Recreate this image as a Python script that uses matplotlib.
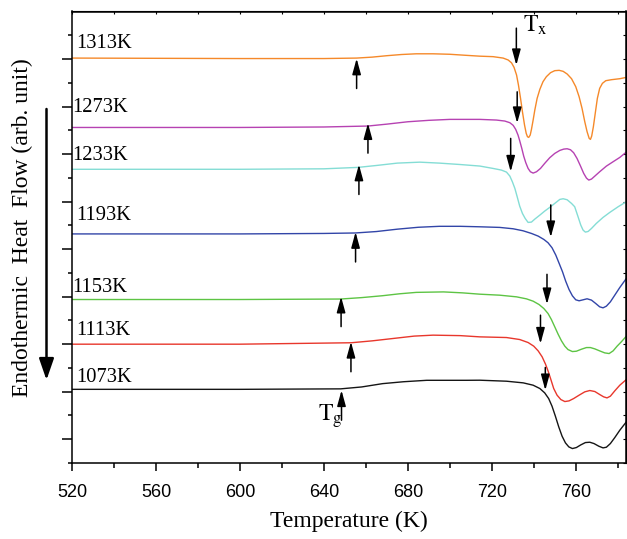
import numpy as np
import matplotlib
matplotlib.use("Agg")
import matplotlib.pyplot as plt

plt.rcParams['font.family'] = ['Liberation Serif', 'DejaVu Serif']
plt.rcParams['mathtext.fontset'] = 'stix'

# DSC curves (temperature in K, heat flow in arb. units incl. offset)
t_1313 = [520, 600, 640, 655.6, 663, 670, 677, 684, 692, 700, 707, 714.3, 720.6, 725.4, 727.8, 729.4,
          730.6, 731.8, 732.7, 733.7, 734.6, 735.6, 736.4, 737.0, 737.6, 738.3, 738.9, 739.7, 740.5,
          741.6, 742.9, 744.4, 746.0, 748.0, 750.0, 752.1, 754.0, 755.9, 758.0, 760.0, 761.6, 763.0,
          764.3, 765.4, 766.4, 767.0, 767.6, 768.4, 769.4, 770.3, 771.4, 772.7, 774.3, 777.0, 781.0, 784.1]
hf_1313 = [8.02, 8.01, 8.01, 8.02, 8.04, 8.07, 8.095, 8.11, 8.11, 8.10, 8.08, 8.06, 8.05, 8.02, 7.98, 7.92,
           7.825, 7.664, 7.453, 7.172, 6.892, 6.611, 6.436, 6.365, 6.351, 6.40, 6.52, 6.716, 6.927,
           7.172, 7.362, 7.523, 7.628, 7.713, 7.755, 7.762, 7.741, 7.685, 7.586, 7.418, 7.207, 6.962,
           6.681, 6.471, 6.330, 6.309, 6.379, 6.576, 6.892, 7.172, 7.383, 7.488, 7.544, 7.565, 7.586, 7.614]

t_1273 = [520, 600, 640, 661, 670, 680, 690, 700, 714.3, 722.2, 726.2, 728.6, 730.2, 731.4, 732.5, 733.3,
          734.3, 735.2, 736.2, 737.3, 738.4, 739.7, 741.3, 743.2, 745.2, 747.6, 750.0, 752.4, 754.3,
          755.9, 757.5, 759.0, 760.6, 762.2, 763.8, 765.1, 766.2, 767.5, 769.1, 771.4, 774.6, 777.8,
          781.0, 784.1]
hf_1273 = [6.56, 6.56, 6.57, 6.59, 6.63, 6.68, 6.71, 6.73, 6.73, 6.716, 6.695, 6.660, 6.604, 6.519, 6.400,
           6.281, 6.119, 5.958, 5.818, 5.698, 5.628, 5.600, 5.628, 5.698, 5.804, 5.923, 6.014, 6.077,
           6.105, 6.112, 6.091, 6.028, 5.909, 5.755, 5.593, 5.495, 5.453, 5.474, 5.537, 5.628, 5.747,
           5.839, 5.930, 6.042]

t_1233 = [520, 600, 640, 656.3, 665, 675, 685.7, 695, 705, 714.3, 720.6, 724.6, 727.0, 728.6, 729.8,
          731.0, 732.1, 733.3, 734.6, 735.9, 737.3, 738.9, 740.5, 742.9, 745.2, 747.6, 750.0, 752.4,
          754.0, 755.9, 758.0, 759.5, 761.1, 762.4, 763.5, 764.6, 765.9, 767.5, 769.8, 773.0, 776.2,
          780.2, 784.1]
hf_1233 = [5.68, 5.68, 5.69, 5.72, 5.76, 5.81, 5.83, 5.81, 5.78, 5.748, 5.698, 5.663, 5.621, 5.537, 5.418,
           5.277, 5.102, 4.905, 4.751, 4.646, 4.562, 4.569, 4.632, 4.716, 4.800, 4.878, 4.962, 5.046,
           5.060, 5.039, 4.961, 4.892, 4.681, 4.506, 4.400, 4.358, 4.372, 4.435, 4.541, 4.667, 4.772,
           4.892, 4.997]

t_1193 = [520, 600, 640, 655, 665, 675, 685, 695, 705, 714.3, 723.8, 730.2, 734.9, 738.9, 742.1, 744.8,
          746.8, 748.7, 750.5, 752.1, 753.7, 755.2, 756.8, 758.4, 760.0, 761.6, 763.5, 765.4, 767.5,
          769.5, 771.4, 773.0, 774.6, 776.5, 778.6, 781.0, 784.1]
hf_1193 = [4.32, 4.32, 4.33, 4.34, 4.37, 4.42, 4.46, 4.48, 4.48, 4.47, 4.457, 4.428, 4.386, 4.330, 4.274,
           4.204, 4.134, 4.029, 3.874, 3.699, 3.523, 3.327, 3.151, 3.018, 2.934, 2.913, 2.934, 2.955,
           2.927, 2.857, 2.786, 2.765, 2.800, 2.891, 3.032, 3.193, 3.383]

t_1153 = [520, 600, 648, 658, 668, 676, 684, 697, 706, 714.3, 723.8, 731.8, 736.5, 739.7, 742.5, 744.8,
          746.8, 748.4, 750.0, 751.6, 753.2, 754.8, 756.3, 758.4, 760.3, 762.7, 765.1, 767.0, 769.1,
          771.4, 773.8, 775.9, 777.8, 779.7, 781.7, 784.1]
hf_1153 = [2.94, 2.94, 2.95, 2.98, 3.02, 3.06, 3.09, 3.10, 3.08, 3.052, 3.031, 2.996, 2.954, 2.905, 2.835,
           2.750, 2.645, 2.519, 2.365, 2.210, 2.070, 1.958, 1.887, 1.845, 1.852, 1.894, 1.929, 1.929,
           1.901, 1.859, 1.817, 1.803, 1.859, 1.958, 2.049, 2.168]

t_1113 = [520, 600, 653, 663, 673, 683, 692, 705, 714.3, 727.0, 733.3, 737.3, 740.0, 742.1, 744.0, 745.6,
          746.8, 748.0, 749.5, 751.1, 752.9, 754.8, 756.8, 759.0, 761.6, 764.3, 766.7, 769.1, 771.4,
          773.3, 774.9, 776.5, 778.6, 781.0, 784.1]
hf_1113 = [2.00, 2.00, 2.03, 2.07, 2.12, 2.17, 2.19, 2.18, 2.154, 2.140, 2.098, 2.035, 1.958, 1.859, 1.733,
           1.579, 1.438, 1.277, 1.067, 0.927, 0.835, 0.793, 0.807, 0.856, 0.927, 0.997, 1.025, 1.004,
           0.941, 0.892, 0.870, 0.906, 1.018, 1.137, 1.256]

t_1073 = [520, 600, 648, 658, 668, 678, 689, 708, 714.3, 727.0, 735.0, 739.7, 742.9, 745.2, 747.1, 748.7,
          750.3, 751.9, 753.5, 755.1, 756.7, 758.4, 760.3, 762.4, 764.6, 766.7, 768.7, 771.0, 773.0,
          774.6, 776.5, 778.6, 781.0, 784.1]
hf_1073 = [1.05, 1.05, 1.06, 1.10, 1.17, 1.21, 1.24, 1.24, 1.242, 1.221, 1.186, 1.137, 1.067, 0.976, 0.856,
           0.695, 0.485, 0.260, 0.063, -0.077, -0.161, -0.196, -0.175, -0.119, -0.070, -0.063, -0.091,
           -0.147, -0.182, -0.168, -0.091, 0.035, 0.190, 0.365]

labels = ['1313K', '1273K', '1233K', '1193K', '1153K', '1113K', '1073K']
colors = ['#F5892A', '#B642B2', '#84DDD5', '#3245A8', '#5DC444', '#E8372C', '#151515']
label_x = [522.2, 520.3, 520.3, 522.2, 520.3, 521.9, 521.9]
label_y = [8.23, 6.88, 5.87, 4.61, 3.09, 2.19, 1.20]

# glass transition (Tg) and crystallization onset (Tx) arrows
tg_t = [655.6, 661.0, 656.7, 655.1, 648.2, 652.9, 648.4]
tg_tip = [8.01, 6.65, 5.78, 4.36, 3.00, 2.05, 1.03]
tx_t = [731.7, 732.1, 729.0, 748.1, 746.3, 743.2, 745.5]
tx_tip = [7.87, 6.65, 5.63, 4.25, 2.84, 2.01, 1.03]
tx_tail = [8.65, 7.31, 6.33, 4.93, 3.47, 2.61, 1.51]
arrow_len = 0.63

curves = [(t_1313, hf_1313), (t_1273, hf_1273), (t_1233, hf_1233), (t_1193, hf_1193),
          (t_1153, hf_1153), (t_1113, hf_1113), (t_1073, hf_1073)]

fig = plt.figure(figsize=(6.27, 5.39), dpi=100)
ax = fig.add_axes([72 / 627, 1 - 463 / 539, 553.7 / 627, 451.5 / 539])

for (t, hf), c in zip(curves, colors):
    ax.plot(t, hf, color=c, lw=1.0, solid_joinstyle='round')

for lx, ly, lab in zip(label_x, label_y, labels):
    ax.text(lx, ly, lab, fontsize=14.8, va='baseline', ha='left')

small = dict(arrowstyle='-|>,head_length=0.95,head_width=0.26', lw=1.1, color='black',
             shrinkA=0, shrinkB=0)
for t, tip in zip(tg_t, tg_tip):
    ax.annotate('', xy=(t, tip), xytext=(t, tip - arrow_len), arrowprops=small)
for t, tip, tail in zip(tx_t, tx_tip, tx_tail):
    ax.annotate('', xy=(t, tip), xytext=(t, tail), arrowprops=small)

ax.text(734.8, 8.57, r'$\mathrm{T}_{\mathrm{x}}$', fontsize=17)
ax.text(637.1, 0.40, r'$\mathrm{T}_{\mathrm{g}}$', fontsize=17)

ax.set_xlim(520, 783.8)
ax.set_ylim(-0.5, 9.0)
ax.set_xticks(np.arange(520, 781, 40))
ax.set_xticks(np.arange(540, 781, 40), minor=True)
ax.set_yticks(np.arange(0, 9, 1))
ax.set_yticks(np.arange(-0.5, 9.0, 1), minor=True)
ax.set_yticklabels([])
ax.tick_params(axis='x', which='major', direction='out', length=6, width=1.1, pad=9,
               labelsize=13, labelfontfamily='Liberation Sans')
ax.tick_params(axis='x', which='minor', direction='out', length=3.6, width=1.1)
ax.tick_params(axis='y', which='major', direction='out', length=7.2, width=1.1)
ax.tick_params(axis='y', which='minor', direction='out', length=3.0, width=1.1)
for s in ax.spines.values():
    s.set_linewidth(1.1)

top = ax.secondary_xaxis('top')
top.set_xticks(np.arange(520, 781, 20))
top.tick_params(direction='in', length=2.5, width=0.8, labeltop=False)
right = ax.secondary_yaxis('right')
right.set_yticks(np.arange(-0.5, 9.0, 0.5))
right.tick_params(direction='in', length=2.5, width=0.8, labelright=False)

ax.set_xlabel('Temperature (K)', fontsize=17, labelpad=7)
fig.text(22 / 627, 1 - 228 / 539, 'Endothermic  Heat  Flow (arb. unit)', fontsize=17,
         rotation=90, ha='center', va='center')
ax.annotate('', xy=(46.5 / 627, 1 - 380 / 539), xytext=(46.5 / 627, 1 - 109 / 539),
            xycoords='figure fraction', textcoords='figure fraction',
            arrowprops=dict(arrowstyle='-|>,head_length=1.3,head_width=0.45', lw=1.8,
                            color='black', shrinkA=0, shrinkB=0))

fig.savefig('out.png', dpi=100)
